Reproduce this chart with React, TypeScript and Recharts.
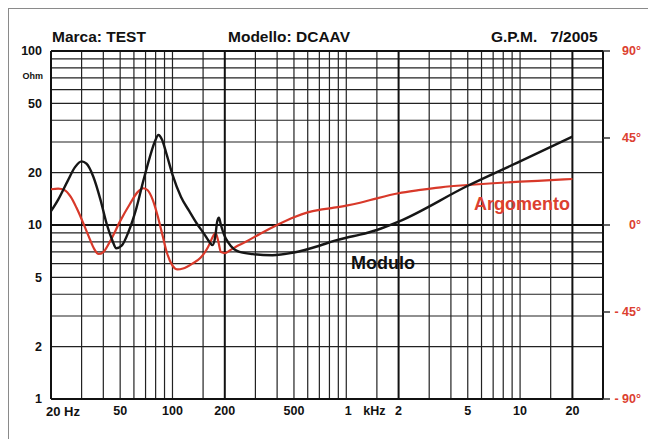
import { LineChart, Line, XAxis, YAxis, ReferenceLine } from 'recharts';

// Modulo (impedance, ohm) vs frequency (Hz)
const moduloFreq = [20, 22, 25, 27.5, 30, 32, 35, 38.5, 42, 45, 47.5, 51, 56, 62, 68, 74, 79, 83, 87, 92, 100, 112, 125, 138, 152, 163, 170, 176, 181, 185, 190, 198, 210, 243, 290, 376, 500, 700, 850, 1000, 1200, 1500, 2000, 5000, 10000, 20000];
const moduloOhm = [12, 14, 18, 21.5, 23.2, 22.5, 19, 14, 10, 8.2, 7.35, 7.6, 9.2, 12.5, 18, 24.5, 30, 32.9, 31, 26, 19.5, 14.5, 12, 10.2, 8.9, 8, 7.66, 8.5, 10.5, 11, 10, 8.8, 7.9, 7, 6.8, 6.7, 6.95, 7.6, 8.1, 8.45, 8.8, 9.36, 10.45, 16.8, 23.2, 32.2];

// Argomento (phase, degrees) vs frequency (Hz)
const argFreq = [20, 22, 24, 26, 28, 30, 33, 35.5, 37.5, 40, 44, 50, 57, 63, 68, 72, 77, 82, 88, 93, 100, 107, 115, 130, 145, 160, 172, 177, 183, 190, 200, 215, 240, 266, 320, 400, 500, 600, 700, 800, 1000, 1200, 1500, 2000, 2600, 3500, 5000, 7000, 10000, 15000, 20000];
const argDeg = [18.5, 18.8, 18, 14.5, 9, 3, -6, -12.5, -15, -14, -8, 2, 11, 17, 19, 18, 13, 5, -6, -14.5, -21, -23, -22.5, -20, -17, -11.5, -5.5, -4, -8, -14, -14.5, -13, -10.5, -8.5, -4.5, 0, 4, 6.5, 7.8, 8.6, 10, 11.5, 13.8, 16.4, 18, 19.5, 20.7, 21.6, 22.4, 23.2, 23.8];

const freqTicks = [20, 50, 100, 200, 500, 1000, 2000, 5000, 10000, 20000];
const freqTickLabels = ['20 Hz', '50', '100', '200', '500', '1', '2', '5', '10', '20'];
const ohmTicks = [1, 2, 5, 10, 20, 50, 100];
const degTicks = [90, 45, 0, -45, -90];
const degTickLabels = ['90°', '45°', '0°', '- 45°', '- 90°'];

const vGrid = [30, 40, 50, 60, 70, 80, 90, 100, 150, 300, 400, 500, 600, 700, 800, 900, 1000, 1500, 3000, 4000, 5000, 6000, 7000, 8000, 9000, 10000, 15000];
const vGridThick = [20, 200, 2000, 20000, 30000];
const hGrid = [2, 3, 4, 5, 6, 7, 8, 9, 20, 30, 40, 50, 60, 70, 80, 90];
const hGridThick = [1, 10, 100];

const moduloData = moduloFreq.map((f, i) => ({ f, ohm: moduloOhm[i] }));
const argData = argFreq.map((f, i) => ({ f, deg: argDeg[i] }));

const FONT = '"Liberation Sans", Arial, sans-serif';
const RED = '#dc4030';

const FreqTick = (props: any) => {
  const { x, y, payload } = props;
  const idx = freqTicks.indexOf(payload.value);
  const label = freqTickLabels[idx];
  const common = { fontFamily: FONT, fontWeight: 700, fontSize: 12.5, fill: '#111' };
  if (payload.value === 20) {
    return <text x={x - 5} y={y} dy="0.75em" textAnchor="start" {...common} fontSize={13}>{label}</text>;
  }
  if (payload.value === 1000) {
    return (
      <g>
        <text x={x + 2} y={y} dy="0.75em" textAnchor="middle" {...common}>1</text>
        <text x={x + 17} y={y} dy="0.75em" textAnchor="start" {...common}>kHz</text>
      </g>
    );
  }
  return <text x={x} y={y} dy="0.75em" textAnchor="middle" {...common}>{label}</text>;
};

const OhmTick = (props: any) => {
  const { x, y, payload } = props;
  const common = { fontFamily: FONT, fontWeight: 700, fill: '#111' };
  return (
    <g>
      <text x={x} y={y} dy="0.35em" textAnchor="end" fontSize={12.5} {...common}>{payload.value}</text>
      {payload.value === 100 && (
        <text x={x + 1} y={y + 25} dy="0.35em" textAnchor="end" fontSize={9} {...common}>Ohm</text>
      )}
    </g>
  );
};

const DegTick = (props: any) => {
  const { x, y, payload } = props;
  const label = degTickLabels[degTicks.indexOf(payload.value)];
  return (
    <text x={x} y={y} dy="0.35em" textAnchor="end" fontFamily={FONT} fontWeight={700} fontSize={12.5} fill={RED}>
      {label}
    </text>
  );
};

export default function App() {
  const title = { position: 'absolute' as const, top: 28, fontSize: 15.5, fontWeight: 700, color: '#111', whiteSpace: 'pre' as const };
  return (
    <div style={{ position: 'absolute', left: 0, top: 0, width: 648, height: 439, background: '#fff', fontFamily: FONT }}>
      <div style={{ position: 'absolute', left: 8, top: 8, right: 0, bottom: 0, borderTop: '1.5px solid #8a8a8a', borderLeft: '1.5px solid #8a8a8a' }} />
      <div style={{ ...title, left: 52 }}>Marca: TEST</div>
      <div style={{ ...title, left: 228 }}>Modello: DCAAV</div>
      <div style={{ ...title, left: 491 }}>G.P.M.   7/2005</div>

      <LineChart width={648} height={439} margin={{ top: 51, right: 0, bottom: 0, left: 0 }} style={{ position: 'absolute', left: 0, top: 0 }}>
        <XAxis
          dataKey="f"
          type="number"
          scale="log"
          domain={[20, 30000]}
          allowDataOverflow
          ticks={freqTicks}
          tick={<FreqTick />}
          tickLine={false}
          axisLine={false}
          tickSize={0}
          tickMargin={7}
          height={40}
        />
        <YAxis
          yAxisId="left"
          scale="log"
          domain={[1, 100]}
          allowDataOverflow
          ticks={ohmTicks}
          tick={<OhmTick />}
          tickLine={false}
          axisLine={false}
          tickSize={0}
          tickMargin={9}
          width={51}
        />
        <YAxis
          yAxisId="right"
          orientation="right"
          type="number"
          domain={[-90, 90]}
          ticks={degTicks}
          tick={<DegTick />}
          tickLine={{ stroke: '#333', strokeWidth: 1.5 }}
          axisLine={false}
          tickSize={7}
          tickMargin={31}
          width={45}
        />
        {hGrid.map(v => (
          <ReferenceLine key={'h' + v} yAxisId="left" y={v} stroke="#222" strokeWidth={1.2} />
        ))}
        {vGrid.map(v => (
          <ReferenceLine key={'v' + v} yAxisId="left" x={v} stroke="#222" strokeWidth={1.2} />
        ))}
        {hGridThick.map(v => (
          <ReferenceLine key={'ht' + v} yAxisId="left" y={v} stroke="#111" strokeWidth={2} />
        ))}
        {vGridThick.map(v => (
          <ReferenceLine key={'vt' + v} yAxisId="left" x={v} stroke="#111" strokeWidth={2} />
        ))}
        <Line
          yAxisId="right"
          data={argData}
          dataKey="deg"
          type="monotone"
          stroke="#d8392a"
          strokeWidth={2.2}
          dot={false}
          isAnimationActive={false}
        />
        <Line
          yAxisId="left"
          data={moduloData}
          dataKey="ohm"
          type="monotone"
          stroke="#161616"
          strokeWidth={2.4}
          dot={false}
          isAnimationActive={false}
        />
      </LineChart>

      <div style={{ position: 'absolute', left: 351, top: 253, fontSize: 18, fontWeight: 700, color: '#111' }}>Modulo</div>
      <div style={{ position: 'absolute', left: 474, top: 194, fontSize: 18, fontWeight: 700, color: RED }}>Argomento</div>
    </div>
  );
}
